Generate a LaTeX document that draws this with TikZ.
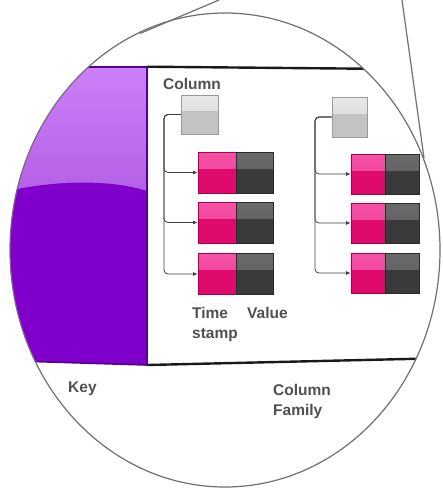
\documentclass[tikz,border=0pt]{standalone}
\usepackage{fontspec}
\setmainfont{Liberation Sans}
\usetikzlibrary{arrows.meta,calc}

\definecolor{keytop}{HTML}{CC80F8}
\definecolor{keymid}{HTML}{B35EE6}
\definecolor{keydark}{HTML}{7E00CA}
\definecolor{keyedge}{HTML}{56008F}
\definecolor{tstop}{HTML}{F452A6}
\definecolor{tsmid}{HTML}{EE3E96}
\definecolor{tslow}{HTML}{DE0A6C}
\definecolor{tsedge}{HTML}{A8004F}
\definecolor{valtop}{HTML}{6A6A6A}
\definecolor{valmid}{HTML}{5C5C5C}
\definecolor{vallow}{HTML}{3A3A3A}
\definecolor{valedge}{HTML}{2A2A2A}
\definecolor{coltop}{HTML}{E8E8E8}
\definecolor{colmid}{HTML}{D4D4D4}
\definecolor{collow}{HTML}{C3C3C3}
\definecolor{coledge}{HTML}{9A9A9A}
\definecolor{labelgray}{HTML}{505050}
\definecolor{lensgray}{HTML}{707070}
\definecolor{linkgray}{HTML}{404040}

\tikzset{
  glossy/.style n args={4}{
    draw=#4, line width=0.7pt, fill=#3, inner sep=0pt,
    path picture={
      \fill[top color=#1, bottom color=#2]
        (path picture bounding box.north west) rectangle
        ($(path picture bounding box.north east)!0.4!(path picture bounding box.south east)$);
    }},
  tscell/.style={glossy={tstop}{tsmid}{tslow}{tsedge}, minimum width=38pt, minimum height=41pt},
  valcell/.style={glossy={valtop}{valmid}{vallow}{valedge}, minimum width=37pt, minimum height=41pt},
  colbox/.style={glossy={coltop}{colmid}{collow}{coledge}, minimum width=37pt, minimum height=39pt},
  link/.style={draw=linkgray, line width=0.8pt, rounded corners=4pt, -{Latex[length=4.5pt,width=4pt]}},
  caption/.style={text=labelgray, font=\bfseries\fontsize{15.5}{20.5}\selectfont, inner sep=0pt, anchor=north west, align=left},
  lens/.style={draw=lensgray, line width=1.2pt},
  band/.style={draw=black!90, line width=2.4pt},
}

\begin{document}
\begin{tikzpicture}[x=1pt, y=-1pt]
\useasboundingbox (0,0) rectangle (443,490);
\fill[white] (0,0) rectangle (443,490);

% key band and row borders, kept inside the lens
\begin{scope}
  \clip (225,250) ellipse [x radius=215, y radius=237];
  \fill[top color=keytop, bottom color=keymid] (0,67) rectangle (147,200);
  \fill[keydark] (0,193) .. controls (50,180) and (110,179) .. (147,191)
    -- (147,365) -- (0,360.5) -- cycle;
  \draw[keyedge, line width=2pt] (0,67) -- (147,67);
  \draw[keyedge, line width=1.6pt] (0,360.5) -- (147,365);
  \draw[band] (147,66.7) -- (450,69.5);
  \draw[band] (147,365) -- (450,358);
  \draw[keyedge, line width=2.2pt] (147,66) -- (147,366);
\end{scope}

% first column
\node[colbox] (col1) at (199.5,114.5) {};
\node[tscell] (ts11) at (217,172.5) {};
\node[valcell, anchor=west] (v11) at (ts11.east) {};
\node[tscell] (ts12) at (217,222.5) {};
\node[valcell, anchor=west] (v12) at (ts12.east) {};
\node[tscell] (ts13) at (217,274) {};
\node[valcell, anchor=west] (v13) at (ts13.east) {};
\coordinate (sp1) at (164,0);
\draw[link] (col1.west) -- (sp1 |- col1.west) |- (ts11.west);
\draw[link] (col1.west) -- (sp1 |- col1.west) |- (ts12.west);
\draw[link] (col1.west) -- (sp1 |- col1.west) |- (ts13.west);

% second column
\node[colbox, minimum width=35pt, minimum height=40pt] (col2) at (349.5,117) {};
\node[tscell, minimum width=34pt, minimum height=40pt] (ts21) at (368,174) {};
\node[valcell, minimum width=34pt, minimum height=40pt, anchor=west] (v21) at (ts21.east) {};
\node[tscell, minimum width=34pt, minimum height=40pt] (ts22) at (368,223) {};
\node[valcell, minimum width=34pt, minimum height=40pt, anchor=west] (v22) at (ts22.east) {};
\node[tscell, minimum width=34pt, minimum height=40pt] (ts23) at (368,273) {};
\node[valcell, minimum width=34pt, minimum height=40pt, anchor=west] (v23) at (ts23.east) {};
\coordinate (sp2) at (315,0);
\draw[link] (col2.west) -- (sp2 |- col2.west) |- (ts21.west);
\draw[link] (col2.west) -- (sp2 |- col2.west) |- (ts22.west);
\draw[link] (col2.west) -- (sp2 |- col2.west) |- (ts23.west);

% labels
\node[caption] (lcol) at (163,78) {Column};
\node[caption] (lts) at (192,307) {Time\\stamp};
\node[caption] (lval) at (247,307) {Value};
\node[caption] (lkey) at (68,382) {Key};
\node[caption] (lcf) at (273,384) {Column\\Family};

% lens outline and its guide lines
\draw[lens] (225,250) ellipse [x radius=215, y radius=237];
\draw[lens] (140,33.5) -- (219,0);
\draw[lens] (402,0) -- (424,158);
\end{tikzpicture}
\end{document}
